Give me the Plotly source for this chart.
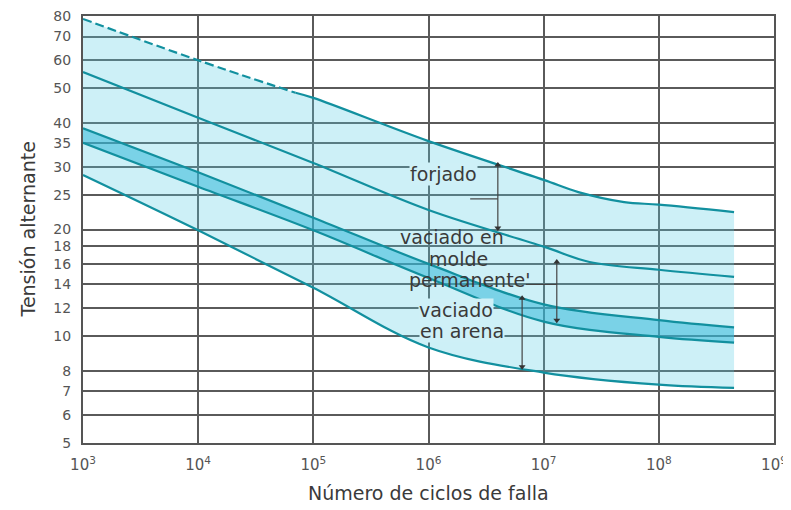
import plotly.graph_objects as go
import math

# ---- data (cycles N, alternating stress S) ----
forj_top_N = [1e3, 1e4, 7e4, 1e5, 1e6, 1e7, 2e7, 5e7, 1e8, 4.5e8]
forj_top_S = [78.5, 60.0, 48.6, 47.0, 35.5, 27.6, 25.5, 23.9, 23.5, 22.4]
dash_end_index = 2  # dashed up to 7e4 cycles

forj_low_N = [1e3, 1e4, 1e5, 1e6, 1e7, 2.5e7, 1e8, 4.5e8]
forj_low_S = [55.6, 41.3, 30.8, 22.7, 17.9, 16.2, 15.4, 14.7]

arena_top_N = [1e3, 1e4, 1e5, 1e6, 1e7, 1e8, 4.5e8]
arena_top_S = [38.6, 29.0, 21.6, 16.0, 12.3, 11.1, 10.6]

molde_low_N = [1e3, 1e4, 1e5, 1e6, 1e7, 1e8, 4.5e8]
molde_low_S = [35.1, 26.4, 19.9, 14.6, 11.0, 9.96, 9.6]

arena_low_N = [1e3, 1e4, 1e5, 1e6, 1e7, 1e8, 4.5e8]
arena_low_S = [28.5, 19.9, 13.7, 9.3, 7.9, 7.3, 7.15]

# range indicator arrows (cycles, top stress, bottom stress)
arrow_N = [4e6, 6.5e6, 1.3e7]
arrow_top = [30.4, 12.8, 16.2]
arrow_bot = [20.2, 8.2, 11.1]

# short leader ticks
lead_N0 = [2.3e6, 7e6]
lead_N1 = [4e6, 1.3e7]
lead_S = [24.4, 14.0]

y_ticks = [5, 6, 7, 8, 10, 12, 14, 16, 18, 20, 25, 30, 35, 40, 50, 60, 70, 80]
x_ticks = [1e3, 1e4, 1e5, 1e6, 1e7, 1e8, 1e9]
x_ticktext = ["10<sup>3</sup>", "10<sup>4</sup>", "10<sup>5</sup>", "10<sup>6</sup>",
              "10<sup>7</sup>", "10<sup>8</sup>", "10<sup>9</sup>"]

labels = ["forjado", "vaciado en", "molde", "permanente'", "vaciado", "en arena"]

# ---- styling ----
LINE = "#12909f"
LIGHT = "rgba(88,205,228,0.30)"
DARK = "rgba(40,180,215,0.50)"
GRID = "#5a5a5a"
TXT = "#3a3a3a"
FONT = "DejaVu Sans"

fig = go.Figure()

# fills
fig.add_trace(go.Scatter(x=arena_low_N, y=arena_low_S, mode="lines", line=dict(width=0, shape="spline"),
                         hoverinfo="skip", showlegend=False))
fig.add_trace(go.Scatter(x=forj_top_N, y=forj_top_S, mode="lines", line=dict(width=0, shape="spline"),
                         fill="tonexty", fillcolor=LIGHT, hoverinfo="skip", showlegend=False))
fig.add_trace(go.Scatter(x=molde_low_N, y=molde_low_S, mode="lines", line=dict(width=0, shape="spline"),
                         hoverinfo="skip", showlegend=False))
fig.add_trace(go.Scatter(x=arena_top_N, y=arena_top_S, mode="lines", line=dict(width=0, shape="spline"),
                         fill="tonexty", fillcolor=DARK, hoverinfo="skip", showlegend=False))

# curves
fig.add_trace(go.Scatter(x=forj_top_N[:dash_end_index + 1], y=forj_top_S[:dash_end_index + 1], mode="lines",
                         line=dict(color=LINE, width=2.2, dash="9px,4px", shape="spline"), showlegend=False))
fig.add_trace(go.Scatter(x=forj_top_N[dash_end_index:], y=forj_top_S[dash_end_index:], mode="lines",
                         line=dict(color=LINE, width=2.2, shape="spline"), showlegend=False))
for N, S in [(forj_low_N, forj_low_S), (arena_top_N, arena_top_S),
             (molde_low_N, molde_low_S), (arena_low_N, arena_low_S)]:
    fig.add_trace(go.Scatter(x=N, y=S, mode="lines",
                             line=dict(color=LINE, width=2.2, shape="spline"), showlegend=False))

# range arrows
for n, t, b in zip(arrow_N, arrow_top, arrow_bot):
    fig.add_trace(go.Scatter(x=[n, n], y=[t, b], mode="lines+markers",
                             line=dict(color="#444", width=1.2),
                             marker=dict(symbol=["triangle-up", "triangle-down"], size=6, color="#333"),
                             showlegend=False))
for n0, n1, s in zip(lead_N0, lead_N1, lead_S):
    fig.add_trace(go.Scatter(x=[n0, n1], y=[s, s], mode="lines",
                             line=dict(color="#444", width=1.2), showlegend=False))

# labels (paper coordinates)
label_pos = [(0.521, 0.630), (0.534, 0.482), (0.543, 0.431), (0.560, 0.382), (0.540, 0.312), (0.549, 0.262)]
label_bg = [True, False, False, False, True, True]
annotations = []
for txt, (px, py), bg in zip(labels, label_pos, label_bg):
    annotations.append(dict(text=txt, x=px, y=py, xref="paper", yref="paper", showarrow=False,
                            xanchor="center", yanchor="middle",
                            font=dict(family=FONT, size=19, color=TXT),
                            bgcolor="rgb(206,240,247)" if bg else None, borderpad=0))

annotations.append(dict(text="Tensión alternante", x=-0.0796, y=0.5, xref="paper", yref="paper",
                        showarrow=False, textangle=-90, xanchor="center", yanchor="middle",
                        font=dict(family=FONT, size=19, color=TXT)))
annotations.append(dict(text="Número de ciclos de falla", x=0.5, y=-0.117, xref="paper", yref="paper",
                        showarrow=False, xanchor="center", yanchor="middle",
                        font=dict(family=FONT, size=19, color=TXT)))

# the html page adds an 8px body margin, so the figure is sized/offset to compensate
fig.update_layout(
    width=783, height=502,
    margin=dict(l=75, r=17, t=8, b=67, autoexpand=False),
    paper_bgcolor="white", plot_bgcolor="white",
    annotations=annotations,
    xaxis=dict(type="log", range=[3, 9], tickvals=x_ticks, ticktext=x_ticktext,
               showgrid=True, gridcolor=GRID, gridwidth=1.7, zeroline=False,
               showline=True, mirror=True, linecolor="#555", linewidth=2,
               ticks="outside", ticklen=7, tickcolor="rgba(0,0,0,0)",
               ticklabeloverflow="allow",
               tickfont=dict(family=FONT, size=15, color="#555")),
    yaxis=dict(type="log", range=[math.log10(5), math.log10(80)], tickvals=y_ticks,
               showgrid=True, gridcolor=GRID, gridwidth=1.7, zeroline=False,
               showline=True, mirror=True, linecolor="#555", linewidth=2,
               ticks="outside", ticklen=7, tickcolor="rgba(0,0,0,0)",
               ticklabeloverflow="allow",
               tickfont=dict(family=FONT, size=14, color="#555")),
)

fig.write_html("out.html")
